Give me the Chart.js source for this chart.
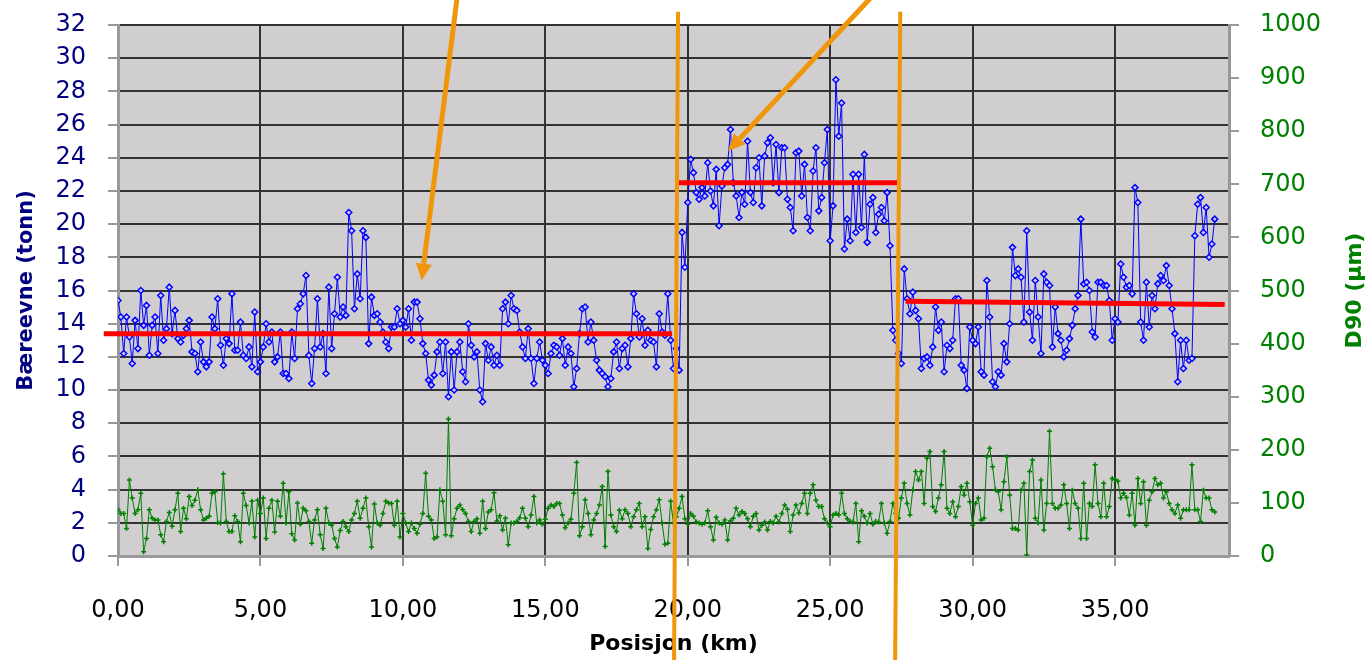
<!DOCTYPE html>
<html lang="no">
<head>
<meta charset="utf-8">
<title>Bæreevne og D90 langs strekningen</title>
<script src="https://cdn.jsdelivr.net/npm/chart.js@4.4.1/dist/chart.umd.min.js"></script>
<style>
    html, body { margin: 0; padding: 0; background: #fff; }
    #wrap { width: 1371px; height: 660px; }
</style>
</head>
<body>
<div id="wrap"><canvas id="chartBaereevne"></canvas></div>
<script>
// Bæreevne (tonn), én måling per 0,1 km fra 0,0 til 38,5 km
const baereevne = [
    15.4, 14.4, 12.2, 14.4, 13.2, 11.6, 14.2, 12.5, 16.0, 13.9,
    15.1, 12.1, 13.9, 14.4, 12.2, 15.7, 13.0, 13.7, 16.2, 13.4,
    14.8, 13.1, 12.9, 13.3, 13.7, 14.2, 12.3, 12.2, 11.1, 12.9,
    11.7, 11.4, 11.7, 14.4, 13.7, 15.5, 12.7, 11.5, 13.1, 12.8,
    15.8, 12.4, 12.4, 14.1, 12.1, 11.9, 12.6, 11.4, 14.7, 11.1,
    11.7, 12.6, 14.0, 12.9, 13.5, 11.7, 12.0, 13.5, 11.0, 11.0,
    10.7, 13.5, 11.9, 14.9, 15.2, 15.8, 16.9, 12.1, 10.4, 12.5,
    15.5, 12.6, 13.4, 11.0, 16.2, 12.5, 14.6, 16.8, 14.4, 15.0,
    14.5, 20.7, 19.6, 14.9, 17.0, 15.5, 19.6, 19.2, 12.8, 15.6,
    14.5, 14.6, 14.1, 13.5, 12.9, 12.5, 13.8, 13.8, 14.9, 14.0,
    14.2, 13.8, 14.9, 13.0, 15.3, 15.3, 14.3, 12.8, 12.2, 10.6,
    10.3, 10.9, 12.3, 12.9, 11.0, 12.9, 9.6, 12.3, 10.0, 12.3,
    12.9, 11.1, 10.5, 14.0, 12.7, 12.0, 12.3, 10.0, 9.3, 12.8,
    11.8, 12.6, 11.5, 12.1, 11.5, 14.9, 15.3, 14.0, 15.7, 14.9,
    14.8, 13.5, 12.6, 11.9, 13.7, 11.9, 10.4, 11.9, 12.9, 11.8,
    11.5, 11.0, 12.2, 12.7, 12.6, 12.1, 13.1, 11.5, 12.6, 12.2,
    10.2, 11.3, 13.4, 14.9, 15.0, 12.9, 14.1, 13.0, 11.8, 11.2,
    11.0, 10.8, 10.2, 10.7, 12.3, 12.9, 11.3, 12.5, 12.7, 11.4,
    13.1, 15.8, 14.6, 13.2, 14.3, 12.7, 13.6, 13.0, 12.9, 11.4,
    14.6, 13.5, 13.3, 15.8, 13.0, 11.3, 12.5, 11.2, 19.5, 17.4,
    21.3, 23.9, 23.1, 21.9, 21.5, 22.2, 21.7, 23.7, 22.0, 21.1,
    23.3, 19.9, 22.3, 23.4, 23.6, 25.7, 22.5, 21.7, 20.4, 21.9,
    21.2, 25.0, 21.9, 21.3, 23.4, 24.0, 21.1, 24.1, 24.9, 25.2,
    22.5, 24.8, 21.9, 24.6, 24.6, 21.5, 21.0, 19.6, 24.3, 24.4,
    21.7, 23.6, 20.4, 19.6, 23.2, 24.6, 20.8, 21.6, 23.7, 25.7,
    19.0, 21.1, 28.7, 25.3, 27.3, 18.5, 20.3, 19.0, 23.0, 19.5,
    23.0, 19.8, 24.2, 18.9, 21.2, 21.6, 19.5, 20.6, 21.0, 20.2,
    21.9, 18.7, 13.6, 13.0, 12.2, 11.6, 17.3, 15.5, 14.6, 15.9,
    14.8, 14.3, 11.3, 11.9, 12.0, 11.5, 12.6, 15.0, 13.6, 14.1,
    11.1, 12.7, 12.5, 13.0, 15.5, 15.5, 11.5, 11.2, 10.1, 13.8,
    13.0, 12.8, 13.8, 11.1, 10.9, 16.6, 14.4, 10.5, 10.2, 11.1,
    10.9, 12.8, 11.7, 14.0, 18.6, 16.9, 17.3, 16.8, 14.1, 19.6,
    14.7, 13.0, 16.6, 14.4, 12.2, 17.0, 16.5, 16.3, 12.6, 15.0,
    13.4, 13.0, 12.0, 12.4, 13.1, 13.9, 14.9, 15.7, 20.3, 16.4,
    16.5, 16.0, 13.5, 13.2, 16.5, 16.5, 16.3, 16.3, 15.4, 13.0,
    14.3, 14.1, 17.6, 16.8, 16.2, 16.3, 15.8, 22.2, 21.3, 14.1,
    13.0, 16.5, 13.8, 15.7, 14.9, 16.4, 16.9, 16.6, 17.5, 16.3,
    14.9, 13.4, 10.5, 13.0, 11.3, 13.0, 11.8, 11.9, 19.3, 21.2,
    21.6, 19.5, 21.0, 18.0, 18.8, 20.3
];

// D90 (µm), samme posisjoner
const d90 = [
    87, 80, 80, 52, 143, 109, 80, 87, 118, 8,
    33, 87, 71, 68, 68, 40, 27, 65, 82, 56,
    87, 118, 46, 90, 70, 112, 95, 105, 125, 87,
    68, 71, 75, 118, 121, 63, 62, 155, 65, 46,
    46, 76, 65, 27, 118, 95, 62, 103, 36, 105,
    80, 109, 33, 90, 105, 45, 103, 75, 137, 62,
    121, 42, 30, 100, 60, 90, 85, 65, 24, 68,
    87, 40, 14, 90, 62, 58, 33, 17, 48, 65,
    55, 46, 68, 80, 103, 71, 90, 109, 55, 17,
    98, 62, 58, 80, 103, 100, 99, 58, 103, 36,
    80, 62, 46, 62, 52, 43, 60, 80, 156, 75,
    68, 33, 36, 125, 103, 40, 258, 38, 70, 90,
    96, 87, 80, 65, 46, 65, 70, 43, 103, 52,
    83, 87, 119, 66, 76, 49, 71, 21, 62, 62,
    65, 72, 90, 71, 55, 77, 112, 62, 68, 60,
    69, 90, 96, 93, 99, 99, 77, 53, 62, 69,
    118, 176, 38, 55, 106, 80, 40, 68, 80, 96,
    131, 18, 159, 77, 55, 46, 86, 70, 87, 80,
    55, 74, 87, 99, 55, 74, 14, 50, 74, 87,
    106, 62, 22, 24, 103, 62, 74, 90, 112, 70,
    60, 80, 75, 64, 62, 60, 62, 85, 55, 30,
    73, 62, 60, 68, 30, 66, 71, 90, 77, 84,
    80, 70, 55, 75, 80, 49, 58, 64, 49, 65,
    62, 75, 64, 80, 96, 88, 46, 77, 96, 81,
    99, 118, 80, 118, 134, 105, 93, 93, 70, 62,
    55, 77, 80, 77, 118, 80, 70, 65, 64, 99,
    27, 85, 75, 62, 80, 60, 65, 64, 99, 62,
    43, 65, 99, 80, 71, 109, 137, 99, 77, 125,
    159, 143, 159, 99, 184, 197, 93, 84, 109, 134,
    197, 90, 80, 102, 74, 93, 131, 115, 137, 102,
    58, 99, 109, 68, 71, 187, 203, 168, 125, 121,
    87, 140, 187, 115, 52, 52, 49, 124, 137, 2,
    159, 181, 71, 62, 143, 49, 99, 235, 99, 90,
    90, 96, 134, 99, 52, 124, 99, 90, 33, 137,
    33, 99, 93, 172, 99, 74, 137, 74, 93, 146,
    144, 141, 109, 118, 110, 77, 118, 58, 146, 99,
    140, 58, 105, 121, 146, 134, 137, 109, 121, 99,
    87, 80, 96, 71, 87, 87, 87, 172, 87, 87,
    65, 124, 109, 109, 87, 83
];

const posisjon = baereevne.map((_, i) => i / 10);

// Snittlinjer for de tre delstrekningene [km, tonn]
const snittLinjer = [
    [[-0.5, 13.4], [19.45, 13.4]],
    [[19.6, 22.5], [27.35, 22.5]],
    [[27.65, 15.35], [38.85, 15.15]]
];

// Grenser mellom delstrekningene (oransje streker) [km, tonn]
const grenser = [
    [[19.66, 32.8], [19.52, -6.4]],
    [[27.46, 32.8], [27.28, -6.4]]
];

// Piler: fra -> til [km, tonn]
const piler = [
    [[11.9, 33.6], [10.66, 16.6]],
    [[26.4, 33.6], [21.42, 24.4]]
];

const blaa = '#0000ff';
const gronn = '#008000';
const marine = '#000080';
const oransje = 'rgb(240,150,10)';
const font = 'DejaVu Sans';

const bakgrunn = {
    id: 'bakgrunn',
    beforeDraw(chart) {
        const { ctx, chartArea: a } = chart;
        ctx.save();
        ctx.fillStyle = '#d0cecf';
        ctx.fillRect(a.left, a.top, a.right - a.left, a.bottom - a.top);
        ctx.restore();
    }
};

const pilTegner = {
    id: 'piler',
    afterDatasetsDraw(chart) {
        const { ctx, scales: { x, y } } = chart;
        ctx.save();
        ctx.strokeStyle = oransje;
        ctx.fillStyle = oransje;
        ctx.lineWidth = 5;
        piler.forEach(([fra, til]) => {
            const x1 = x.getPixelForValue(fra[0]), y1 = y.getPixelForValue(fra[1]);
            const x2 = x.getPixelForValue(til[0]), y2 = y.getPixelForValue(til[1]);
            const v = Math.atan2(y2 - y1, x2 - x1);
            const hode = 17, bredde = 8;
            const bx = x2 - hode * Math.cos(v), by = y2 - hode * Math.sin(v);
            ctx.beginPath();
            ctx.moveTo(x1, y1);
            ctx.lineTo(bx, by);
            ctx.stroke();
            ctx.beginPath();
            ctx.moveTo(x2, y2);
            ctx.lineTo(bx + bredde * Math.sin(v), by - bredde * Math.cos(v));
            ctx.lineTo(bx - bredde * Math.sin(v), by + bredde * Math.cos(v));
            ctx.closePath();
            ctx.fill();
        });
        ctx.restore();
    }
};

// høyre aksetittel leses nedenfra og opp, som den venstre
const hoyreTittel = {
    id: 'hoyreTittel',
    afterDraw(chart) {
        const { ctx } = chart;
        const s = chart.scales.y2;
        ctx.save();
        ctx.translate(s.right - 16, (s.top + s.bottom) / 2);
        ctx.rotate(-Math.PI / 2);
        ctx.font = `bold 22px "${font}"`;
        ctx.fillStyle = gronn;
        ctx.textAlign = 'center';
        ctx.textBaseline = 'middle';
        ctx.fillText('D90 (µm)', 0, 0);
        ctx.restore();
    }
};

const linje = (punkter, farge, bredde, rekkefolge) => ({
    data: punkter.map(([x, y]) => ({ x, y })),
    yAxisID: 'y',
    borderColor: farge,
    borderWidth: bredde,
    pointRadius: 0,
    clip: false,
    order: rekkefolge
});

// fast bredde, og ingen ekstra luft over/under fra tallene
const fastBredde = bredde => s => {
    s.width = bredde;
    s.paddingTop = 0;
    s.paddingBottom = 0;
};

const ctx = document.getElementById('chartBaereevne').getContext('2d');

new Chart(ctx, {
    type: 'line',
    data: {
        datasets: [
            ...grenser.map(g => linje(g, oransje, 4, 0)),
            ...snittLinjer.map(s => linje(s, '#ff0000', 5, 1)),
            {
                label: 'Bæreevne',
                data: posisjon.map((x, i) => ({ x, y: baereevne[i] })),
                yAxisID: 'y',
                borderColor: blaa,
                borderWidth: 1,
                pointStyle: 'rectRot',
                pointRadius: 3,
                pointBorderWidth: 1.5,
                pointBorderColor: blaa,
                pointBackgroundColor: 'rgba(215,215,255,0.9)',
                order: 2
            },
            {
                label: 'D90',
                data: posisjon.map((x, i) => ({ x, y: d90[i] })),
                yAxisID: 'y2',
                borderColor: gronn,
                borderWidth: 1,
                pointStyle: 'cross',
                pointRadius: 2.5,
                pointBorderWidth: 1.5,
                pointBorderColor: gronn,
                order: 3
            }
        ]
    },
    options: {
        responsive: true,
        maintainAspectRatio: false,
        animation: false,
        layout: { padding: { top: 25, left: 0, right: 0, bottom: 0 } },
        plugins: {
            legend: { display: false },
            tooltip: { enabled: false }
        },
        scales: {
            x: {
                type: 'linear',
                min: 0,
                max: 39,
                afterBuildTicks: s => { s.ticks = s.ticks.filter(t => t.value % 5 === 0); },
                afterFit: s => { s.height = 104; },
                ticks: {
                    stepSize: 5,
                    autoSkip: false,
                    maxRotation: 0,
                    padding: 30,
                    color: '#000',
                    font: { family: font, size: 24 },
                    callback: v => v.toFixed(2).replace('.', ',')
                },
                grid: { color: '#333', lineWidth: 2, tickColor: '#999', tickLength: 10 },
                border: { color: '#999', width: 3 },
                title: {
                    display: true,
                    text: 'Posisjon (km)',
                    color: '#000',
                    font: { family: font, size: 22, weight: 'bold' },
                    padding: { top: 0, bottom: 3 }
                }
            },
            y: {
                position: 'left',
                min: 0,
                max: 32,
                afterFit: fastBredde(118),
                ticks: {
                    stepSize: 2,
                    autoSkip: false,
                    padding: 22,
                    color: marine,
                    font: { family: font, size: 24 }
                },
                grid: { color: '#333', lineWidth: 2, tickColor: '#999', tickLength: 10 },
                border: { color: '#999', width: 3 },
                title: {
                    display: true,
                    text: 'Bæreevne (tonn)',
                    color: marine,
                    font: { family: font, size: 21, weight: 'bold' },
                    padding: { top: 14, bottom: 0 }
                }
            },
            y2: {
                position: 'right',
                min: 0,
                max: 1000,
                afterFit: fastBredde(142),
                ticks: {
                    stepSize: 100,
                    autoSkip: false,
                    padding: 21,
                    color: gronn,
                    font: { family: font, size: 24 },
                    callback: v => String(v)
                },
                grid: { drawOnChartArea: false, lineWidth: 2, tickColor: '#999', tickLength: 10 },
                border: { color: '#999', width: 3 }
            }
        }
    },
    plugins: [bakgrunn, pilTegner, hoyreTittel]
});
</script>
</body>
</html>
